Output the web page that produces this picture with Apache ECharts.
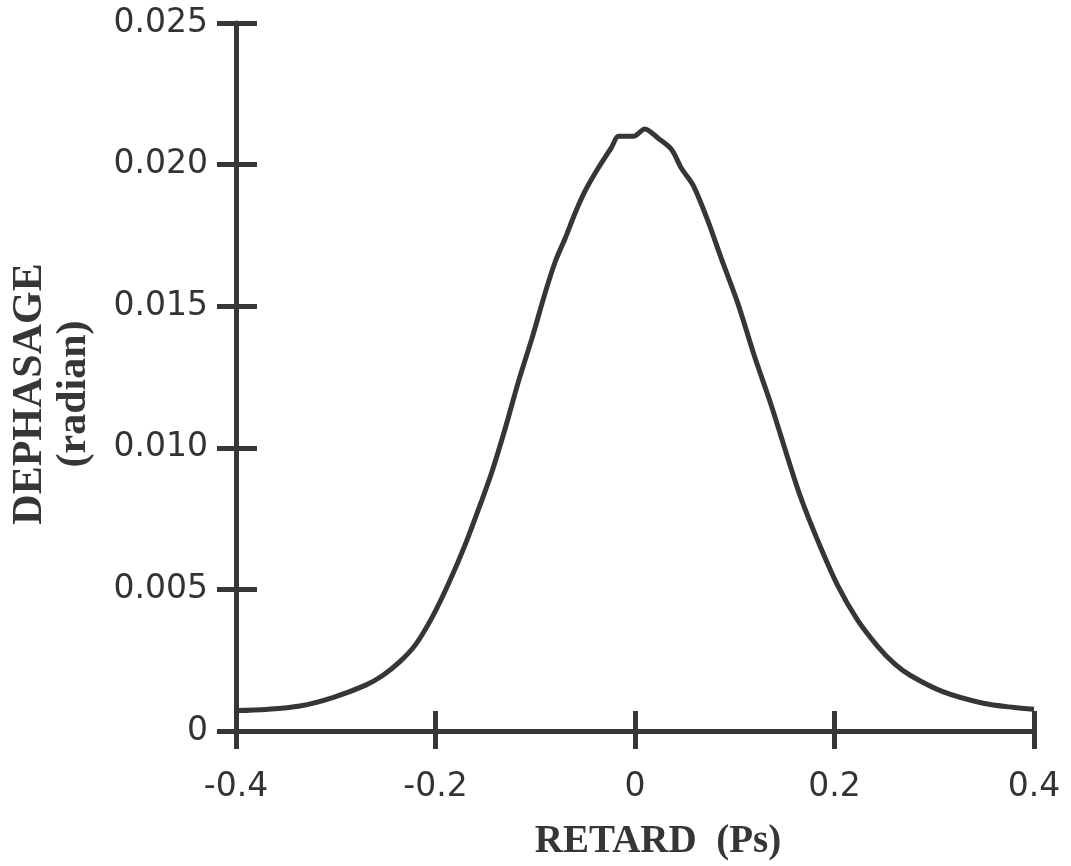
<!DOCTYPE html>
<html>
<head>
<meta charset="utf-8">
<script src="https://cdn.jsdelivr.net/npm/echarts@6/dist/echarts.min.js"></script>
<style>
  html, body { margin: 0; padding: 0; background: #fff; }
  #chart { width: 1071px; height: 866px; }
</style>
</head>
<body>
<div id="chart"></div>
<script>
// Delay (ps)
const retard = [
  -0.400, -0.370, -0.336, -0.303, -0.270, -0.253, -0.236, -0.220, -0.203, -0.187,
  -0.170, -0.153, -0.143, -0.130, -0.117, -0.103, -0.090, -0.080, -0.070, -0.060,
  -0.050, -0.037, -0.0235, -0.0165, -0.0015, 0.0098, 0.0232, 0.0365, 0.0465, 0.0581,
  0.0731, 0.0864, 0.1031, 0.1197, 0.1364, 0.1530, 0.1664, 0.1830, 0.2030, 0.2230,
  0.2430, 0.2600, 0.2762, 0.3092, 0.3491, 0.380, 0.400
];
// Phase shift (radian)
const dephasage = [
  0.00072, 0.00076, 0.00088, 0.00118, 0.00162, 0.00196, 0.00244, 0.00305, 0.00404, 0.00520,
  0.00660, 0.00820, 0.00920, 0.01070, 0.01232, 0.01390, 0.01548, 0.01657, 0.01740, 0.01829,
  0.01907, 0.01987, 0.02061, 0.02100, 0.02100, 0.02126, 0.02093, 0.02054, 0.01987, 0.01928,
  0.01801, 0.01670, 0.01510, 0.01324, 0.01152, 0.00966, 0.00822, 0.00674, 0.00515, 0.00392,
  0.00300, 0.00238, 0.00196, 0.00138, 0.00098, 0.00083, 0.00077
];
const xTickLabels = ['-0.4', '-0.2', '0', '0.2', '0.4'];
const yTickLabels = ['0', '0.005', '0.010', '0.015', '0.020', '0.025'];
const xTitle = 'RETARD  (Ps)';
const yTitle = 'DEPHASAGE\n(radian)';

const INK = '#363636';
const points = retard.map((x, i) => [x, dephasage[i]]);

const chart = echarts.init(document.getElementById('chart'), null, { renderer: 'canvas' });

const xBase = {
  type: 'value', min: -0.4, max: 0.4, interval: 0.2, position: 'bottom',
  splitLine: { show: false }
};
const yBase = {
  type: 'value', min: 0, max: 0.025, interval: 0.005, position: 'left',
  splitLine: { show: false }
};

chart.setOption({
  animation: false,
  backgroundColor: '#ffffff',
  grid: { left: 233, right: 37, top: 23, bottom: 131, containLabel: false },
  xAxis: [
    Object.assign({}, xBase, {
      axisLine: { show: true, onZero: false, lineStyle: { color: INK, width: 5 } },
      axisTick: { show: true, inside: false, length: 18, lineStyle: { color: INK, width: 5 } },
      axisLabel: {
        show: true, margin: 40, color: '#333', fontSize: 33,
        fontFamily: 'DejaVu Sans',
        formatter: (v) => xTickLabels[Math.round((v + 0.4) / 0.2)]
      },
      name: xTitle, nameLocation: 'middle', nameGap: 91,
      nameTextStyle: {
        color: INK, fontSize: 39, fontWeight: 'bold', fontFamily: 'Liberation Serif',
        padding: [0, 0, 0, 46]
      }
    }),
    Object.assign({}, xBase, {
      axisLine: { show: false, onZero: false },
      axisTick: { show: true, inside: true, length: 20, lineStyle: { color: INK, width: 5 } },
      axisLabel: { show: false }
    })
  ],
  yAxis: [
    Object.assign({}, yBase, {
      axisLine: { show: true, onZero: false, lineStyle: { color: INK, width: 5 } },
      axisTick: { show: true, inside: false, length: 19, lineStyle: { color: INK, width: 5 } },
      axisLabel: {
        show: true, margin: 28, color: '#333', fontSize: 33,
        fontFamily: 'DejaVu Sans',
        formatter: (v) => yTickLabels[Math.round(v / 0.005)]
      },
      name: yTitle, nameLocation: 'middle', nameRotate: 90, nameGap: 140,
      nameTextStyle: {
        color: INK, fontSize: 42, fontWeight: 'bold', fontFamily: 'Liberation Serif',
        lineHeight: 44, align: 'center', padding: [0, 34, 0, 0]
      }
    }),
    Object.assign({}, yBase, {
      axisLine: { show: false, onZero: false },
      axisTick: { show: true, inside: true, length: 21, lineStyle: { color: INK, width: 5 } },
      axisLabel: { show: false }
    })
  ],
  series: [{
    type: 'line',
    xAxisIndex: 0, yAxisIndex: 0,
    data: points,
    smooth: 0.3,
    showSymbol: false,
    lineStyle: { color: INK, width: 5 },
    z: 3
  }]
});
</script>
</body>
</html>
